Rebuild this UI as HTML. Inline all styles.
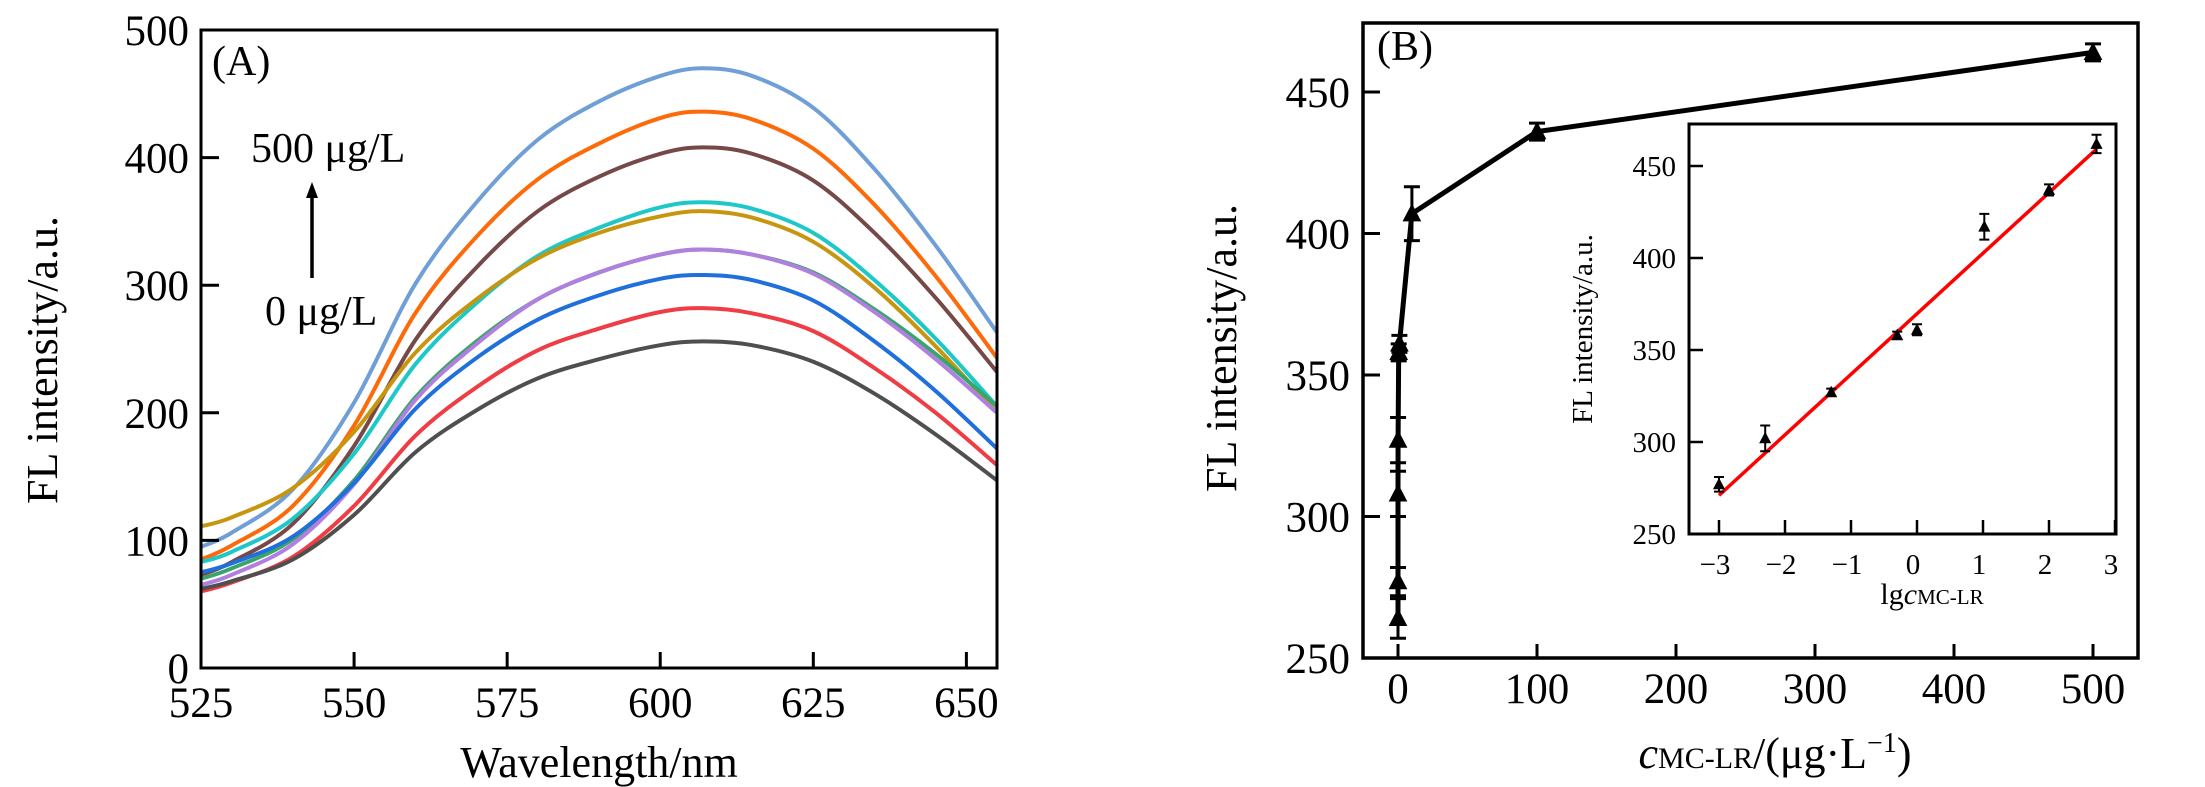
<!DOCTYPE html>
<html><head><meta charset="utf-8"><style>
html,body{margin:0;padding:0;background:#fff;}
svg{display:block;font-family:"Liberation Serif",serif;}
</style></head><body>
<svg id="fig" width="2205" height="787" viewBox="0 0 2205 787" xmlns="http://www.w3.org/2000/svg">
<g id="pa"></g>
<g id="pb"></g>
<g id="pi"></g>
</svg>
<script>
// ---- Panel A data ----
const wavelengths = [525,530,540,550,560,570,580,590,600,607,615,625,635,645,655];
const seriesNames = ['s500','s100','s10','s1','s05','s005','s0005','s0001','s00005','s0'];
const seriesColors = ['#6f9fd6','#fd6a0a','#774848','#1ec8c8','#c8960e','#3aa56a','#b07fe0','#1f6fdc','#f03c44','#4f4f4f'];
const s500 = [95,106,140,208,301,365,414,444,464,470,464,439,391,331,263];
const s100 = [85,96,127,190,278,338,383,411,431,436,430,407,363,307,243];
const s10 = [73,83,113,174,257,314,358,385,403,408,403,382,341,290,232];
const s1 = [83,91,117,168,238,286,323,345,361,365,360,341,304,258,205];
const s05 = [111,118,141,185,247,289,321,341,354,358,353,334,298,252,200];
const s005 = [70,78,101,147,212,256,289,310,324,328,324,310,281,246,205];
const s0005 = [65,73,97,144,210,254,289,310,324,328,324,309,279,242,200];
const s0001 = [75,82,103,145,203,243,273,292,305,308,304,288,256,217,172];
const s00005 = [60,67,87,127,182,220,249,266,279,282,278,264,235,200,159];
const s0 = [62,68,85,120,169,202,227,242,253,256,253,240,215,183,147];
const aXTicks = [525,550,575,600,625,650];
const aYTicks = [0,100,200,300,400,500];

// ---- Panel B data ----
const concB = [0,0.001,0.005,0.05,0.5,1,10,100,500];
const intensityB = [264,277,308,327,358,361,407,436,464];
const errB = [7,5,8,8,3,3,9.5,3,3];
const bXTicks = [0,100,200,300,400,500];
const bYTicks = [250,300,350,400,450];

// ---- Inset data ----
const lgConc = [-3,-2.3,-1.3,-0.3,0,1.02,2,2.72];
const intensityI = [277,302,327,358,361,417,437,462];
const errI = [4,7,2,2,3,7,3,5];
const fitCoef = [32.9,369.7];
const fitRange = [-3,2.72];
const iXTicks = [-3,-2,-1,0,1,2,3];
const iYTicks = [250,300,350,400,450];

const NS='http://www.w3.org/2000/svg';
function mk(tag,attrs,parent){const e=document.createElementNS(NS,tag);for(const k in attrs)e.setAttribute(k,attrs[k]);parent.appendChild(e);return e;}
function smooth(pts){let d='M'+pts[0][0]+','+pts[0][1];for(let i=0;i<pts.length-1;i++){const p0=pts[i-1]||pts[i],p1=pts[i],p2=pts[i+1],p3=pts[i+2]||p2;
const c1x=p1[0]+(p2[0]-p0[0])/6,c1y=p1[1]+(p2[1]-p0[1])/6,c2x=p2[0]-(p3[0]-p1[0])/6,c2y=p2[1]-(p3[1]-p1[1])/6;
d+=' C'+c1x+','+c1y+' '+c2x+','+c2y+' '+p2[0]+','+p2[1];}return d;}
function tri(x,y,s,parent,name){const e=mk('path',{d:`M${x},${y-s*0.6} L${x+s*0.55},${y+s*0.45} L${x-s*0.55},${y+s*0.45} Z`,fill:'#000'},parent);

return e;}

// ===== Panel A =====
const pa=document.getElementById('pa');
const aL=201,aR=997,aT=30,aB=668;
const ax=w=>aL+(w-525)*(aR-aL)/(655-525);
const ay=v=>aB-v*(aB-aT)/500;
const allA=[s500,s100,s10,s1,s05,s005,s0005,s0001,s00005,s0];
allA.forEach((arr,i)=>{const p=mk('path',{d:smooth(arr.map((v,j)=>[ax(wavelengths[j]),ay(v)])),fill:'none',stroke:seriesColors[i],'stroke-width':4,'stroke-linejoin':'round'},pa);

});
let fr=mk('rect',{x:aL,y:aT,width:aR-aL,height:aB-aT,fill:'none',stroke:'#000','stroke-width':3},pa);


aXTicks.forEach(t=>{const x=ax(t);mk('line',{x1:x,x2:x,y1:aB,y2:aB-16,stroke:'#000','stroke-width':3},pa);
const tx=mk('text',{x:x,y:717,'font-size':43,'text-anchor':'middle'},pa);tx.textContent=t;

});
aYTicks.forEach(t=>{const y=ay(t);mk('line',{x1:aL,x2:aL+18,y1:y,y2:y,stroke:'#000','stroke-width':3},pa);
const tx=mk('text',{x:189,y:y+15,'font-size':43,'text-anchor':'end'},pa);tx.textContent=t;

});
let t1=mk('text',{x:599,y:777,'font-size':44,'text-anchor':'middle'},pa);t1.textContent='Wavelength/nm';


let t2=mk('text',{x:0,y:0,'font-size':44,'text-anchor':'middle',transform:'translate(57,360) rotate(-90)'},pa);t2.textContent='FL intensity/a.u.';


let t3=mk('text',{x:212,y:75,'font-size':42},pa);t3.textContent='(A)';


let t4=mk('text',{x:251,y:162,'font-size':42},pa);t4.textContent='500 μg/L';


let t5=mk('text',{x:265,y:325,'font-size':42},pa);t5.textContent='0 μg/L';


let ar=mk('line',{x1:312,x2:312,y1:278,y2:195,stroke:'#000','stroke-width':3.5},pa);


let ah=mk('path',{d:'M312,182 L318,198 L306,198 Z',fill:'#000'},pa);



// ===== Panel B =====
const pb=document.getElementById('pb');
const bL=1363,bR=2138,bT=23,bB=658;
const bx=c=>1398+c*1.39;
const by=v=>bB-(v-250)*2.83;
let bf=mk('rect',{x:bL,y:bT,width:bR-bL,height:bB-bT,fill:'none',stroke:'#000','stroke-width':3.5},pb);


bXTicks.forEach(t=>{const x=bx(t);mk('line',{x1:x,x2:x,y1:bB,y2:bB-14,stroke:'#000','stroke-width':3},pb);
const tx=mk('text',{x:x,y:703,'font-size':43,'text-anchor':'middle'},pb);tx.textContent=t;

});
bYTicks.forEach(t=>{const y=by(t);mk('line',{x1:bL,x2:bL+17,y1:y,y2:y,stroke:'#000','stroke-width':3},pb);
const tx=mk('text',{x:1350,y:y+15,'font-size':43,'text-anchor':'end'},pb);tx.textContent=t;

});
let bl=mk('polyline',{points:concB.map((c,i)=>bx(c)+','+by(intensityB[i])).join(' '),fill:'none',stroke:'#000','stroke-width':5,'stroke-linejoin':'round'},pb);


concB.forEach((c,i)=>{const x=bx(c),yt=by(intensityB[i]+errB[i]),yb=by(intensityB[i]-errB[i]);
const g=mk('path',{d:`M${x},${yt} L${x},${yb} M${x-8},${yt} L${x+8},${yt} M${x-8},${yb} L${x+8},${yb}`,stroke:'#000','stroke-width':3,fill:'none'},pb);


tri(x,by(intensityB[i]),17,pb,'data-point');});
let bt1=mk('text',{x:0,y:0,'font-size':44,'text-anchor':'middle',transform:'translate(1236,348) rotate(-90)'},pb);bt1.textContent='FL intensity/a.u.';


let bt2=mk('text',{x:1775,y:768,'font-size':44,'text-anchor':'middle'},pb);
bt2.innerHTML='<tspan font-style="italic">c</tspan><tspan font-size="30">MC-LR</tspan>/(μg·L<tspan font-size="28" dy="-16">−1</tspan><tspan dy="16">)</tspan>';


let bt3=mk('text',{x:1377,y:60,'font-size':42},pb);bt3.textContent='(B)';



// ===== Inset =====
const pi=document.getElementById('pi');
const iL=1689,iR=2116,iT=124,iB=534;
const ix=l=>1917+l*66;
const iy=v=>iB-(v-250)*1.84;
let ifr=mk('rect',{x:iL,y:iT,width:iR-iL,height:iB-iT,fill:'#fff',stroke:'#000','stroke-width':3},pi);


iXTicks.forEach(t=>{const x=ix(t);mk('line',{x1:x,x2:x,y1:iB,y2:iB-14,stroke:'#000','stroke-width':2.5},pi);
const tx=mk('text',{x:x-4,y:574,'font-size':29,'text-anchor':'middle'},pi);tx.textContent=t<0?'−'+(-t):t;

});
iYTicks.forEach(t=>{const y=iy(t);mk('line',{x1:iL,x2:iL+14,y1:y,y2:y,stroke:'#000','stroke-width':2.5},pi);
const tx=mk('text',{x:1676,y:y+10,'font-size':29,'text-anchor':'end'},pi);tx.textContent=t;

});
let fl=mk('line',{x1:ix(fitRange[0]),y1:iy(fitCoef[0]*fitRange[0]+fitCoef[1]),x2:ix(fitRange[1]),y2:iy(fitCoef[0]*fitRange[1]+fitCoef[1]),stroke:'#f00','stroke-width':3.5},pi);


lgConc.forEach((l,i)=>{const x=ix(l),yt=iy(intensityI[i]+errI[i]),yb=iy(intensityI[i]-errI[i]);
const g=mk('path',{d:`M${x},${yt} L${x},${yb} M${x-5},${yt} L${x+5},${yt} M${x-5},${yb} L${x+5},${yb}`,stroke:'#000','stroke-width':2,fill:'none'},pi);


tri(x,iy(intensityI[i]),11,pi,'inset-data-point');});
let it1=mk('text',{x:1932,y:604,'font-size':30,'text-anchor':'middle'},pi);
it1.innerHTML='lg<tspan font-style="italic">c</tspan><tspan font-size="21">MC-LR</tspan>';


let it2=mk('text',{x:0,y:0,'font-size':29,'text-anchor':'middle',transform:'translate(1592,329) rotate(-90)'},pi);it2.textContent='FL intensity/a.u.';


</script>
</body></html>
